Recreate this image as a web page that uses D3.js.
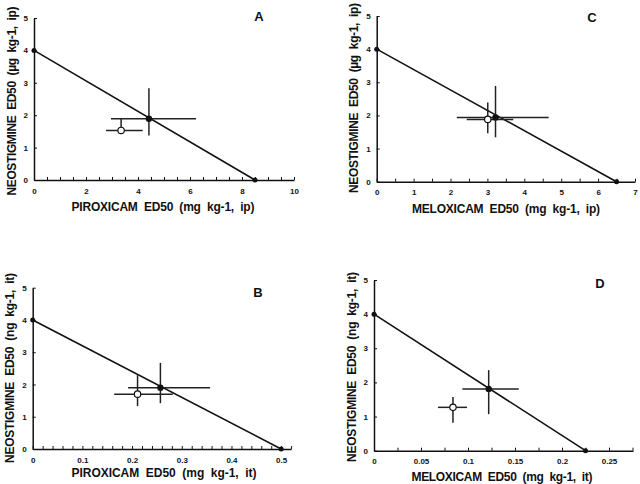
<!DOCTYPE html>
<html><head><meta charset="utf-8">
<script src="https://cdn.jsdelivr.net/npm/d3@7"></script>
<style>
html,body{margin:0;padding:0;background:#fff;}
svg{display:block;}
text{font-family:"Liberation Sans",Arial,sans-serif;font-weight:bold;fill:#111;}
</style></head>
<body>
<svg id="c" width="640" height="484"></svg>
<script>
// ---- data ----
const panelIds = ["A", "B", "C", "D"];
const xTitles = ["PIROXICAM  ED50  (mg  kg-1,  ip)", "PIROXICAM  ED50  (mg  kg-1,  it)",
                 "MELOXICAM  ED50  (mg  kg-1,  ip)", "MELOXICAM  ED50  (mg  kg-1,  it)"];
const yTitles = ["NEOSTIGMINE  ED50  (µg  kg-1,  ip)", "NEOSTIGMINE  ED50  (ng  kg-1,  it)",
                 "NEOSTIGMINE  ED50  (µg  kg-1,  ip)", "NEOSTIGMINE  ED50  (ng  kg-1,  it)"];
const xDomainMax = [10, 0.52, 7, 0.2755];
const xTickLabels = [[0, 2, 4, 6, 8, 10], [0, 0.1, 0.2, 0.3, 0.4, 0.5],
                     [0, 1, 2, 3, 4, 5, 6, 7], [0, 0.05, 0.1, 0.15, 0.2, 0.25]];
const xMinorStep = [0.5, 0.02, 0.5, 0.025];
const yTickLabels = [0, 1, 2, 3, 4, 5];
// ED50 of each drug alone (additive line end points)
const neoAlone = [4, 4, 4, 4];
const nsaidAlone = [8.5, 0.5, 6.5, 0.225];
// theoretical additive ED50 (filled)
const theorX   = [4.42, 0.257, 3.22, 0.122];
const theorXLo = [2.96, 0.192, 2.17, 0.094];
const theorXHi = [6.23, 0.357, 4.66, 0.154];
const theorY   = [1.89, 1.90, 1.94, 1.81];
const theorYLo = [1.37, 1.42, 1.34, 1.07];
const theorYHi = [2.83, 2.67, 2.89, 2.36];
// experimental ED50 (open)
const expX   = [3.35, 0.211, 3.01, 0.084];
const expXLo = [2.77, 0.164, 2.44, 0.068];
const expXHi = [4.18, 0.282, 3.70, 0.099];
const expY   = [1.53, 1.70, 1.88, 1.27];
const expYLo = [1.44, 1.33, 1.46, 0.82];
const expYHi = [1.90, 2.29, 2.39, 1.57];

// ---- layout ----
const layout = [
  {x0: 34,    x1: 294,   y0: 180,   y5: 18,    yt: 11,  ytc: 101, xtx: 163, xty: 211, xtl: 183, ytl: 189, lx: 259, ly: 21},
  {x0: 32.7,  x1: 291.1, y0: 449,   y5: 287.7, yt: 9,   ytc: 368, xtx: 164, xty: 477, xtl: 185, ytl: 190, lx: 258, ly: 297},
  {x0: 376.7, x1: 635,   y0: 181.7, y5: 16,    yt: 353, ytc: 98,  xtx: 506, xty: 213, xtl: 188, ytl: 190, lx: 592, ly: 22},
  {x0: 374,   x1: 633,   y0: 450.7, y5: 280,   yt: 351, ytc: 367, xtx: 502, xty: 481, xtl: 181, ytl: 190, lx: 600, ly: 288}
];

const svg = d3.select("#c");

panelIds.forEach((id, i) => {
  const L = layout[i];
  const x = d3.scaleLinear().domain([0, xDomainMax[i]]).range([L.x0, L.x1]);
  const y = d3.scaleLinear().domain([0, 5]).range([L.y0, L.y5]);
  const g = svg.append("g");

  // minor ticks on x
  const minor = d3.range(0, xDomainMax[i] + 1e-9, xMinorStep[i]);
  g.append("g").attr("transform", `translate(0,${L.y0})`)
    .call(d3.axisBottom(x).tickValues(minor).tickSize(-3).tickSizeOuter(0).tickFormat(""))
    .call(a => a.select(".domain").attr("stroke", "#111").attr("stroke-width", 1.5))
    .call(a => a.selectAll(".tick line").attr("stroke", "#111").attr("stroke-width", 1));
  // labeled x ticks
  g.append("g").attr("transform", `translate(0,${L.y0})`)
    .call(d3.axisBottom(x).tickValues(xTickLabels[i]).tickSize(0).tickPadding(8)
      .tickFormat(d => d3.format("")(d)))
    .call(a => a.select(".domain").remove())
    .call(a => a.selectAll("text").attr("font-size", 8).attr("font-family", "Liberation Sans, Arial").attr("font-weight", "bold").attr("fill", "#111"));
  // y axis
  g.append("g").attr("transform", `translate(${L.x0},0)`)
    .call(d3.axisLeft(y).tickValues(yTickLabels).tickSize(-3).tickSizeOuter(0).tickPadding(6).tickFormat(d3.format("d")))
    .call(a => a.select(".domain").attr("stroke", "#111").attr("stroke-width", 1.5))
    .call(a => a.selectAll(".tick line").attr("stroke", "#111"))
    .call(a => a.selectAll("text").attr("font-size", 8).attr("font-family", "Liberation Sans, Arial").attr("font-weight", "bold").attr("fill", "#111"));

  // additive line
  g.append("line")
    .attr("x1", x(0)).attr("y1", y(neoAlone[i]))
    .attr("x2", x(nsaidAlone[i])).attr("y2", y(0))
    .attr("stroke", "#111").attr("stroke-width", 1.6);
  g.append("circle").attr("cx", x(0)).attr("cy", y(neoAlone[i])).attr("r", 2.5).attr("fill", "#111");
  g.append("circle").attr("cx", x(nsaidAlone[i])).attr("cy", y(0)).attr("r", 2.5).attr("fill", "#111");

  // error bars
  const eb = (cx, lo, hi, cy, ylo, yhi) => {
    g.append("line").attr("x1", x(lo)).attr("x2", x(hi)).attr("y1", y(cy)).attr("y2", y(cy))
      .attr("stroke", "#222").attr("stroke-width", 1.5);
    g.append("line").attr("x1", x(cx)).attr("x2", x(cx)).attr("y1", y(ylo)).attr("y2", y(yhi))
      .attr("stroke", "#222").attr("stroke-width", 1.5);
  };
  eb(expX[i], expXLo[i], expXHi[i], expY[i], expYLo[i], expYHi[i]);
  eb(theorX[i], theorXLo[i], theorXHi[i], theorY[i], theorYLo[i], theorYHi[i]);
  g.append("circle").attr("cx", x(expX[i])).attr("cy", y(expY[i])).attr("r", 3.2)
    .attr("fill", "#fff").attr("stroke", "#111").attr("stroke-width", 1.2);
  g.append("circle").attr("cx", x(theorX[i])).attr("cy", y(theorY[i])).attr("r", 3.2).attr("fill", "#111");

  // titles
  g.append("text").attr("x", L.xtx).attr("y", L.xty).attr("text-anchor", "middle")
    .attr("font-size", 12).style("white-space", "pre")
    .attr("textLength", L.xtl).attr("lengthAdjust", "spacing").text(xTitles[i]);
  g.append("text").attr("transform", `translate(${L.yt + 5},${L.ytc}) rotate(-90)`)
    .attr("text-anchor", "middle").attr("font-size", 12).style("white-space", "pre")
    .attr("textLength", L.ytl).attr("lengthAdjust", "spacing").text(yTitles[i]);
  g.append("text").attr("x", L.lx).attr("y", L.ly).attr("text-anchor", "middle")
    .attr("font-size", 13).text(id);
});
</script>
</body></html>
